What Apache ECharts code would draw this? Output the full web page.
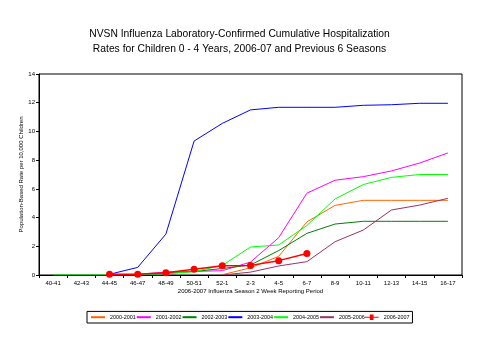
<!DOCTYPE html>
<html>
<head>
<meta charset="utf-8">
<script src="https://cdn.jsdelivr.net/npm/echarts@6/dist/echarts.min.js"></script>
<style>html,body{margin:0;padding:0;background:#fff}#c{width:479px;height:360px}</style>
</head>
<body>
<div id="c"></div>
<script>
var categories = ['40-41','42-43','44-45','46-47','48-49','50-51','52-1','2-3','4-5','6-7','8-9','10-11','12-13','14-15','16-17'];
var seasonNames = ['2000-2001','2001-2002','2002-2003','2003-2004','2004-2005','2005-2006','2006-2007'];
var s2000 = [null,null,null,null,null,null,0.02,0.5,1.3,3.7,4.85,5.2,5.2,5.2,5.2];
var s2001 = [null,null,null,0.05,0.2,0.25,0.3,0.9,2.6,5.7,6.6,6.85,7.25,7.8,8.5];
var s2002 = [null,null,null,0.0,0.1,0.25,0.45,0.7,1.7,2.9,3.55,3.74,3.74,3.74,3.74];
var s2003 = [null,null,0.05,0.53,2.85,9.33,10.56,11.5,11.68,11.68,11.68,11.82,11.86,11.96,11.96];
var s2004 = [0,0,0,0,0.1,0.23,0.67,1.95,2.09,3.45,5.3,6.3,6.8,7.0,7.0];
var s2005 = [null,null,null,null,null,null,0,0.2,0.63,0.93,2.32,3.13,4.53,4.87,5.34];
var s2006 = [null,null,0.05,0.05,0.16,0.4,0.65,0.67,1.0,1.5,null,null,null,null,null];
var yTicks = [0,2,4,6,8,10,12,14];

var colors = ['#FF6600','#FF00FF','#008000','#0000FF','#00FF00','#993366','#FF0000'];
var datas = [s2000,s2001,s2002,s2003,s2004,s2005,s2006];
var font = 'Liberation Sans, Arial, sans-serif';

var series = datas.map(function(d,i){
  var isRed = i === 6;
  return {
    name: seasonNames[i],
    type: 'line',
    data: d,
    symbol: isRed ? 'circle' : 'none',
    symbolSize: isRed ? 7 : 0,
    showSymbol: isRed,
    lineStyle: {color: colors[i], width: isRed ? 1.5 : 1},
    itemStyle: {color: colors[i]},
    connectNulls: false,
    animation: false,
    z: 2 + i
  };
});

var legendData = seasonNames.map(function(n,i){
  if (i === 6) return {name: n, icon: 'path://M0,4.4 H15 V5.6 H0 Z M5.5,2 H9.5 V8 H5.5 Z'};
  return {name: n, itemStyle: {opacity: 0}};
});

var chart = echarts.init(document.getElementById('c'));
chart.setOption({
  animation: false,
  backgroundColor: '#fff',
  title: {
    text: 'NVSN Influenza Laboratory-Confirmed Cumulative Hospitalization\nRates for Children 0 - 4 Years, 2006-07 and Previous 6 Seasons',
    left: 'center',
    top: 22,
    textStyle: {fontFamily: font, fontSize: 10.3, fontWeight: 'normal', color: '#000', lineHeight: 15}
  },
  grid: {left: 39, right: 17, top: 74, bottom: 85, show: true, borderColor: '#000', borderWidth: 1},
  legend: {
    data: legendData,
    bottom: 37,
    left: 87,
    orient: 'horizontal',
    itemWidth: 14,
    itemHeight: 6,
    itemGap: 0,
    padding: [3, 3],
    borderColor: '#000',
    borderWidth: 1,
    textStyle: {fontFamily: font, fontSize: 5.4, color: '#000'}
  },
  xAxis: {
    type: 'category',
    data: categories,
    boundaryGap: true,
    name: '2006-2007 Influenza Season 2 Week Reporting Period',
    nameLocation: 'middle',
    nameGap: 13,
    nameMoveOverlap: false,
    nameTextStyle: {fontFamily: font, fontSize: 6, color: '#000'},
    axisLine: {lineStyle: {color: '#000', width: 1}},
    axisTick: {show: true, length: 3, lineStyle: {color: '#000'}},
    axisLabel: {fontFamily: font, fontSize: 6, color: '#000', margin: 5, interval: 0},
    splitLine: {show: false}
  },
  yAxis: {
    type: 'value',
    min: yTicks[0],
    max: yTicks[yTicks.length-1],
    interval: 2,
    name: 'Population-Based Rate per 10,000 Children',
    nameLocation: 'middle',
    nameGap: 15,
    nameMoveOverlap: false,
    nameTextStyle: {fontFamily: font, fontSize: 6, color: '#000'},
    axisLine: {show: true, lineStyle: {color: '#000', width: 1}},
    axisTick: {show: true, length: 3, lineStyle: {color: '#000'}},
    axisLabel: {fontFamily: font, fontSize: 6, color: '#000', margin: 4},
    splitLine: {show: false}
  },
  series: series
});
</script>
</body>
</html>
